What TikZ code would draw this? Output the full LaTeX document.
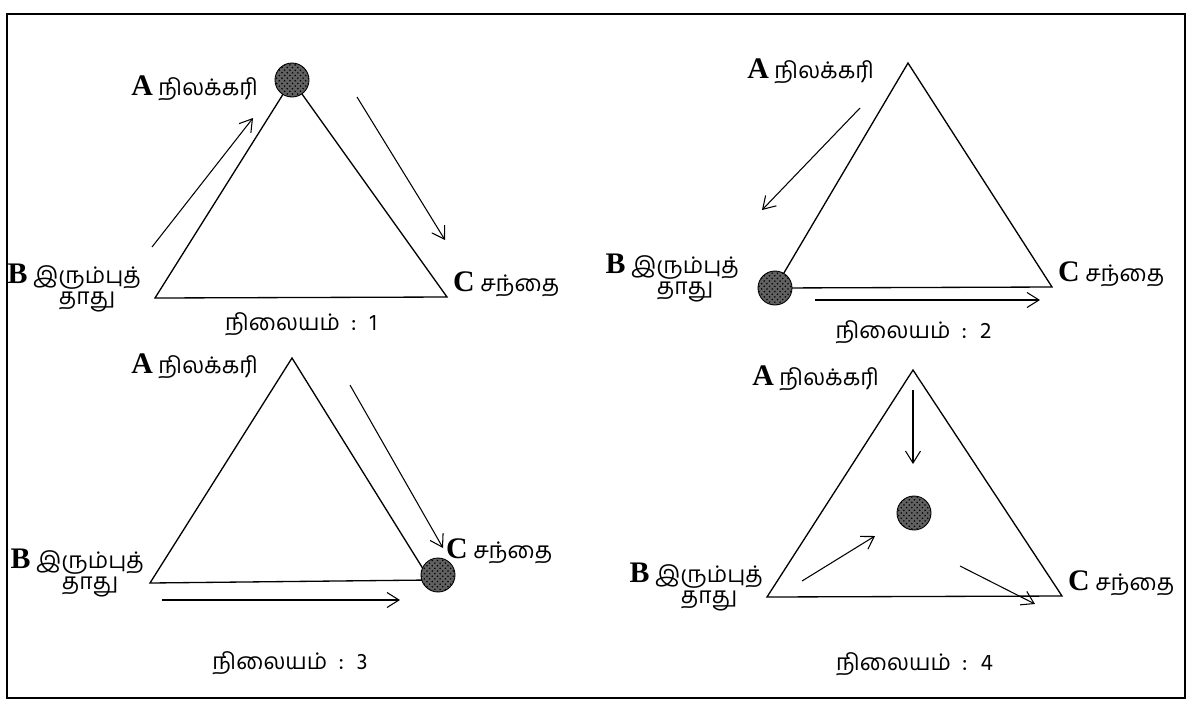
\documentclass[tikz,border=0pt]{standalone}
\usepackage{fontspec}
\setmainfont{Liberation Serif}
\newfontfamily\tamil[Script=Tamil]{Hind Madurai}
\newcommand{\ltrfont}{\rmfamily\bfseries\fontsize{17}{20}\selectfont}
\usepackage{tikz}
\usetikzlibrary{arrows.meta,patterns}

\begin{document}
\begin{tikzpicture}[x=0.02cm, y=-0.02cm,
	side/.style={line width=0.75pt},
	flow/.style={line width=0.6pt, -{Straight Barb[length=2.4mm,width=3mm]}},
	mine/.style={circle, draw, line width=0.5pt, fill=black!62, postaction={pattern=crosshatch dots}, minimum size=0.68cm, inner sep=0pt},
	lbl/.style={font=\tamil\fontsize{13}{15}\selectfont, inner sep=1pt}]
	\useasboundingbox (0,0) rectangle (1197,708);
	\draw [line width=1.1pt] (7,14) rectangle (1185,698);
	
	\foreach \n/\ax/\ay/\bx/\by/\cx/\cy/\bd/\cdx/\cdy/\capy in {
		1/292/80/155/298/447/297/-12/4/-6/322,
		2/908/63/775/288/1052/287/-34/4/-6/330,
		3/292/358/150/583/430/580/-4/14/-22/661,
		4/913/370/767/597/1062/596/-2/4/-6/662
	}
	{
		\coordinate (A\n) at (\ax,\ay);
		\coordinate (B\n) at (\bx,\by);
		\coordinate (C\n) at (\cx,\cy);
		\draw [side] (A\n) -- (B\n) -- (C\n) -- cycle;
		\node [lbl, anchor=base east] (la\n) at ([shift={(-32,15)}]A\n) {{\ltrfont A} நிலக்கரி};
		\node [lbl, anchor=north east, align=center] (lb\n) at ([shift={(\bd,-36)}]B\n)
			{{\ltrfont B} \begin{tabular}[t]{@{}c@{}}இரும்புத்\\[-3pt]தாது\end{tabular}};
		\node [lbl, anchor=base west] (lc\n) at ([shift={(\cdx,\cdy)}]C\n) {{\ltrfont C} சந்தை};
		\node [lbl, anchor=base] (cap\n) at ({(\bx+\cx)/2},\capy+8) {நிலையம் \ : \ \n};
	}
	
	% where the plant stands
	\node [mine] (m1) at (A1) {};
	\node [mine] (m2) at (B2) {};
	\node [mine] (m3) at (438,575) {};
	\node [mine] (m4) at (914,513) {};
	
	% hauls
	\foreach \f/\sx/\sy/\ex/\ey in {
		1/152/247/253/118, 2/357/97/445/240,
		3/860/108/762/210, 4/815/300/1040/300,
		5/350/385/443/548, 6/162/600/400/600,
		7/913/390/913/464, 8/802/581/875/536, 9/960/566/1035/604
	}
	{
		\coordinate (s\f) at (\sx,\sy);
		\coordinate (e\f) at (\ex,\ey);
		\draw [flow] (s\f) -- (e\f);
	}
\end{tikzpicture}
\end{document}
